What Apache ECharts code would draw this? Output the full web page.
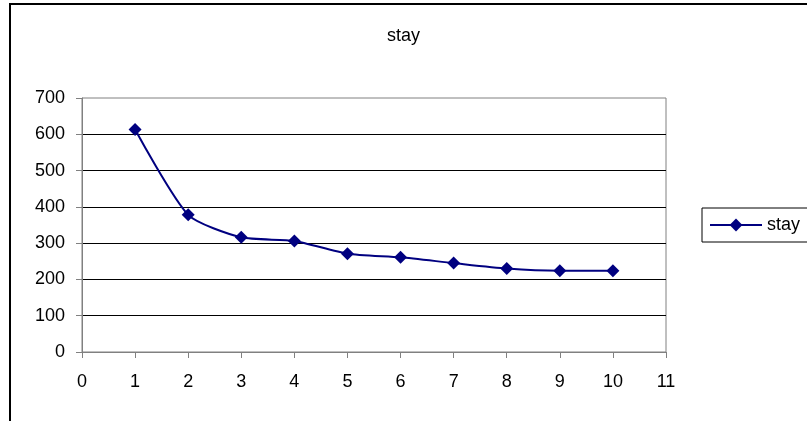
<!DOCTYPE html>
<html>
<head>
<meta charset="utf-8">
<script src="https://cdn.jsdelivr.net/npm/echarts@6/dist/echarts.min.js"></script>
<style>html,body{margin:0;padding:0;background:#fff;}#c{width:807px;height:421px;}</style>
</head>
<body>
<div id="c"></div>
<script>
var xValues = [1, 2, 3, 4, 5, 6, 7, 8, 9, 10];
var stayValues = [613, 378, 316, 306, 271, 261, 245, 230, 224, 224];
var seriesName = 'stay';
var titleText = 'stay';

var chart = echarts.init(document.getElementById('c'), null, {renderer: 'canvas'});
var font = 'Liberation Sans, Arial, sans-serif';
chart.setOption({
  animation: false,
  backgroundColor: '#fff',
  title: {text: titleText, left: 'center', top: 22, textStyle: {fontFamily: font, fontSize: 18, fontWeight: 'normal', color: '#000'}},
  graphic: [{type: 'rect', shape: {x: 10, y: 4, width: 900, height: 500}, style: {fill: 'none', stroke: '#000', lineWidth: 2}, silent: true, z: -1}],
  legend: {
    left: 702, top: 208, orient: 'vertical',
    borderColor: '#000', borderWidth: 1, padding: [8, 30, 8, 7],
    itemWidth: 52, itemHeight: 16, itemGap: 5,
    textStyle: {fontFamily: font, fontSize: 18, color: '#000'},
    data: [seriesName]
  },
  grid: {left: 82, top: 98, width: 584, height: 254, show: true, borderColor: '#808080', borderWidth: 1, containLabel: false},
  xAxis: {
    type: 'value', min: 0, max: 11, interval: 1,
    axisLine: {show: true, lineStyle: {color: '#808080'}},
    axisTick: {show: true, length: 6, lineStyle: {color: '#808080'}},
    axisLabel: {fontFamily: font, fontSize: 18, color: '#000', margin: 21},
    splitLine: {show: false}
  },
  yAxis: {
    type: 'value', min: 0, max: 700, interval: 100,
    axisLine: {show: true, lineStyle: {color: '#808080'}},
    axisTick: {show: true, length: 6, lineStyle: {color: '#808080'}},
    axisLabel: {fontFamily: font, fontSize: 18, color: '#000', margin: 17},
    splitLine: {show: true, showMinLine: false, showMaxLine: false, lineStyle: {color: '#000', width: 1}}
  },
  series: [{
    name: seriesName, type: 'line', smooth: 0.22,
    data: xValues.map(function (x, i) { return [x, stayValues[i]]; }),
    symbol: 'diamond', symbolSize: 13,
    lineStyle: {color: '#000080', width: 2},
    itemStyle: {color: '#000080'}
  }]
});
</script>
</body>
</html>
